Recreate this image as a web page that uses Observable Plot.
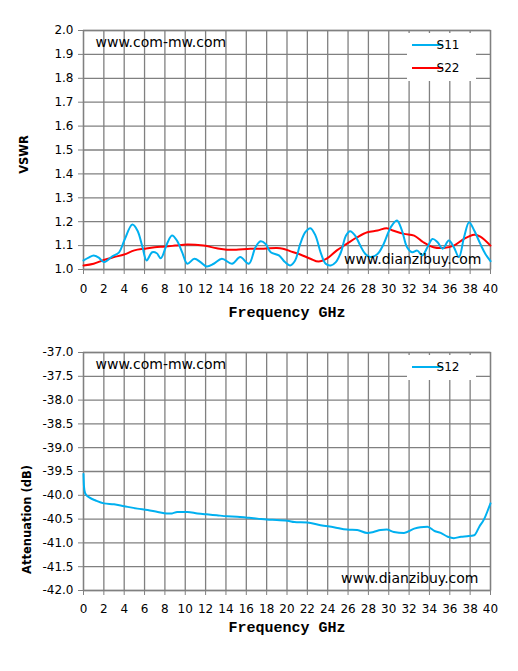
<!DOCTYPE html>
<html>
<head>
<meta charset="utf-8">
<script src="https://cdn.jsdelivr.net/npm/d3@7"></script>
<script src="https://cdn.jsdelivr.net/npm/@observablehq/plot@0.6"></script>
<style>
  html, body { margin: 0; padding: 0; background: #fff; }
  #chart svg { display: block; }
</style>
</head>
<body>
<div id="chart"></div>
<script>
// ---------- data ----------
const freqTicks = [0,2,4,6,8,10,12,14,16,18,20,22,24,26,28,30,32,34,36,38,40];
const vswrTicks = [1.0,1.1,1.2,1.3,1.4,1.5,1.6,1.7,1.8,1.9,2.0];
const attTicks = [-42.0,-41.5,-41.0,-40.5,-40.0,-39.5,-39.0,-38.5,-38.0,-37.5,-37.0];

const s11Freq = [0,0.5,1.0,1.5,2.0,2.8,3.5,4.0,4.8,5.3,5.8,6.2,6.75,7.2,7.6,8.2,8.7,9.2,9.7,10.2,10.9,11.5,12.1,12.8,13.6,14.6,15.4,16.25,16.9,17.4,17.9,18.4,19.2,19.8,20.3,20.8,21.3,21.8,22.3,22.8,23.3,23.8,24.3,24.8,25.3,25.8,26.2,26.7,27.2,27.7,28.2,28.9,29.5,30.2,30.8,31.3,31.8,32.3,32.8,33.3,33.8,34.3,34.8,35.3,35.9,36.4,36.9,37.4,37.9,38.4,39.0,39.5,40.0];
const s11Vswr = [1.038,1.05,1.059,1.05,1.031,1.054,1.072,1.121,1.188,1.163,1.093,1.038,1.072,1.068,1.047,1.107,1.142,1.12,1.072,1.024,1.045,1.031,1.013,1.024,1.045,1.024,1.052,1.024,1.093,1.118,1.107,1.072,1.059,1.031,1.017,1.038,1.107,1.156,1.173,1.142,1.072,1.024,1.017,1.031,1.072,1.142,1.16,1.142,1.1,1.065,1.052,1.065,1.107,1.177,1.205,1.163,1.093,1.072,1.079,1.059,1.093,1.128,1.114,1.087,1.121,1.093,1.052,1.135,1.198,1.163,1.107,1.065,1.035];

const s22Freq = [0,1,2,3,4,5,6,7,8,9,10.2,11.8,13.1,14.1,15,16.4,17.7,19,19.6,20.3,21.3,22.3,23.1,23.9,24.9,25.9,26.9,27.9,28.9,29.8,30.4,31.5,32.5,33.4,34.4,35.4,36.4,37.4,38.4,39.0,40.0];
const s22Vswr = [1.017,1.024,1.04,1.052,1.063,1.08,1.087,1.093,1.096,1.1,1.105,1.1,1.089,1.083,1.083,1.087,1.087,1.09,1.087,1.077,1.063,1.045,1.033,1.045,1.08,1.108,1.135,1.156,1.163,1.173,1.163,1.149,1.142,1.114,1.093,1.09,1.1,1.128,1.145,1.138,1.1];

const s12Freq = [0,0.05,0.15,0.3,0.6,1.2,2.0,3.0,4.0,5.3,6.3,7.3,8.2,8.7,9.2,10.2,11.2,12.1,13.1,14.1,15.1,16.1,17.1,18.0,19.0,20.2,20.7,22.0,23.3,24.6,25.9,26.9,27.9,28.5,29.2,29.8,30.5,31.5,32.5,33.1,33.8,34.5,35.1,35.8,36.4,37.1,37.7,38.4,38.9,39.4,39.8,40.0];
const s12Att = [-39.55,-39.82,-39.95,-40.0,-40.05,-40.11,-40.17,-40.19,-40.23,-40.28,-40.31,-40.35,-40.38,-40.38,-40.35,-40.35,-40.38,-40.40,-40.42,-40.44,-40.45,-40.47,-40.49,-40.51,-40.52,-40.54,-40.56,-40.57,-40.63,-40.67,-40.72,-40.73,-40.79,-40.77,-40.73,-40.72,-40.77,-40.79,-40.70,-40.67,-40.66,-40.75,-40.79,-40.87,-40.90,-40.87,-40.86,-40.84,-40.66,-40.49,-40.28,-40.17];

const topSeries = ["S11", "S22"];
const topColors = ["#00b0f0", "#ff0000"];
const bottomSeries = ["S12"];
const bottomColors = ["#00b0f0"];

// ---------- helpers ----------
const s11 = s11Freq.map((f, i) => ({f, v: s11Vswr[i]}));
const s22 = s22Freq.map((f, i) => ({f, v: s22Vswr[i]}));
const s12 = s12Freq.map((f, i) => ({f, v: s12Att[i]}));

const GRID = "#808080";
const baseStyle = {fontFamily: "DejaVu Sans", fontSize: "12px", background: "#fff", color: "#000", overflow: "visible"};

function legendMark(names, colors) {
  return (index, scales, values, dims) => {
    const g = d3.create("svg:g");
    const right = dims.width - dims.marginRight;
    const t = dims.marginTop;
    g.append("rect")
      .attr("x", right - 83).attr("y", t + 3)
      .attr("width", 69).attr("height", names.length * 23 + 2)
      .attr("fill", "#fff");
    names.forEach((n, i) => {
      const y = t + 15 + i * 23;
      g.append("line")
        .attr("x1", right - 78).attr("x2", right - 47)
        .attr("y1", y).attr("y2", y)
        .attr("stroke", colors[i]).attr("stroke-width", 2);
      g.append("text")
        .attr("x", right - 42).attr("y", y)
        .attr("dy", "0.35em")
        .attr("font-family", "DejaVu Sans").attr("font-size", 12)
        .attr("fill", "#000")
        .text(n);
    });
    return g.node();
  };
}

function gridAndFrame(yTicks) {
  return [
    Plot.gridX(freqTicks, {stroke: GRID, strokeOpacity: 1, strokeWidth: 1.3}),
    Plot.gridY(yTicks, {stroke: GRID, strokeOpacity: 1, strokeWidth: 1.3}),
    Plot.frame({stroke: GRID, strokeWidth: 1.3})
  ];
}

// ---------- top chart ----------
const topChart = Plot.plot({
  width: 518,
  height: 325,
  marginLeft: 83,
  marginRight: 28,
  marginTop: 30,
  marginBottom: 56,
  style: baseStyle,
  x: {domain: [0, 40]},
  y: {domain: [1.0, 2.0]},
  marks: [
    ...gridAndFrame(vswrTicks),
    Plot.axisX(freqTicks, {tickSize: 5, tickPadding: 10, stroke: GRID, fill: "#000", label: null, fontSize: 12}),
    Plot.axisY(vswrTicks, {tickSize: 5, tickPadding: 5, stroke: GRID, fill: "#000", label: null, tickFormat: d => d.toFixed(1), fontSize: 12}),
    legendMark(topSeries, topColors),
    Plot.line(s22, {x: "f", y: "v", stroke: topColors[1], strokeWidth: 2, curve: "catmull-rom"}),
    Plot.line(s11, {x: "f", y: "v", stroke: topColors[0], strokeWidth: 2, curve: "catmull-rom"}),
    Plot.text(["www.com-mw.com"], {frameAnchor: "top-left", textAnchor: "start", lineAnchor: "middle", dx: 12, dy: 12, fontSize: 14, fontFamily: "DejaVu Sans", fill: "#000"}),
    Plot.text(["www.dianzibuy.com"], {frameAnchor: "bottom-right", textAnchor: "end", lineAnchor: "middle", dx: -9, dy: -10, fontSize: 14, fontFamily: "DejaVu Sans", fill: "#000"}),
    Plot.text(["Frequency GHz"], {frameAnchor: "bottom", textAnchor: "middle", lineAnchor: "middle", dy: 43, fontSize: 15, fontWeight: "bold", fontFamily: "Liberation Mono", fill: "#000"}),
    Plot.text(["VSWR"], {frameAnchor: "left", textAnchor: "middle", lineAnchor: "middle", rotate: -90, dx: -59, dy: 4.5, fontSize: 11.5, fontWeight: "bold", fontFamily: "DejaVu Sans", fill: "#000"})
  ]
});

// ---------- bottom chart ----------
const bottomChart = Plot.plot({
  width: 518,
  height: 346,
  marginLeft: 83,
  marginRight: 28,
  marginTop: 27,
  marginBottom: 81,
  style: baseStyle,
  x: {domain: [0, 40]},
  y: {domain: [-42, -37]},
  marks: [
    ...gridAndFrame(attTicks),
    Plot.axisX(freqTicks, {tickSize: 5, tickPadding: 9, stroke: GRID, fill: "#000", label: null, fontSize: 12}),
    Plot.axisY(attTicks, {tickSize: 5, tickPadding: 5, stroke: GRID, fill: "#000", label: null, tickFormat: d => d.toFixed(1), fontSize: 12}),
    legendMark(bottomSeries, bottomColors),
    Plot.line(s12, {x: "f", y: "v", stroke: bottomColors[0], strokeWidth: 2, curve: "monotone-x"}),
    Plot.text(["www.com-mw.com"], {frameAnchor: "top-left", textAnchor: "start", lineAnchor: "middle", dx: 12, dy: 12, fontSize: 14, fontFamily: "DejaVu Sans", fill: "#000"}),
    Plot.text(["www.dianzibuy.com"], {frameAnchor: "bottom-right", textAnchor: "end", lineAnchor: "middle", dx: -12, dy: -12, fontSize: 14, fontFamily: "DejaVu Sans", fill: "#000"}),
    Plot.text(["Frequency GHz"], {frameAnchor: "bottom", textAnchor: "middle", lineAnchor: "middle", dy: 37, fontSize: 15, fontWeight: "bold", fontFamily: "Liberation Mono", fill: "#000"}),
    Plot.text(["Attenuation (dB)"], {frameAnchor: "left", textAnchor: "middle", lineAnchor: "middle", rotate: -90, dx: -56, dy: 48, fontSize: 11.5, fontWeight: "bold", fontFamily: "DejaVu Sans", fill: "#000"})
  ]
});

const root = document.getElementById("chart");
root.appendChild(topChart);
root.appendChild(bottomChart);
</script>
</body>
</html>
